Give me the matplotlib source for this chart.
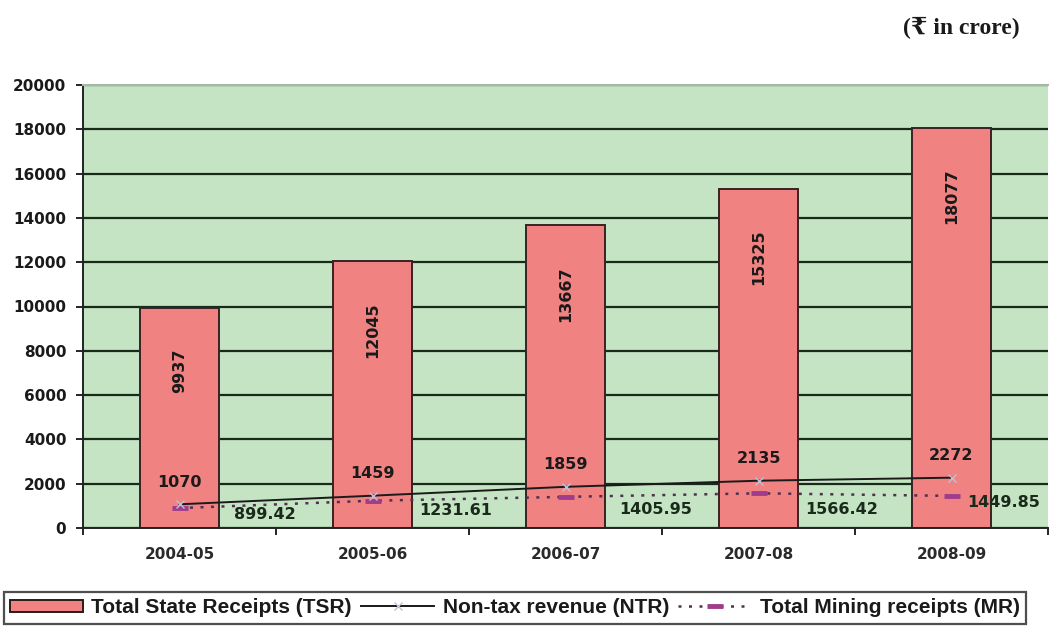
import matplotlib
matplotlib.use("Agg")
import matplotlib.pyplot as plt
import numpy as np
from matplotlib.lines import Line2D
from matplotlib.patches import Patch

years = ["2004-05", "2005-06", "2006-07", "2007-08", "2008-09"]
tsr = [9937, 12045, 13667, 15325, 18077]
ntr = [1070, 1459, 1859, 2135, 2272]
mr = [899.42, 1231.61, 1405.95, 1566.42, 1449.85]
yticks = list(range(0, 20001, 2000))

# label placement (layout only)
mr_label_dx = [0.28, 0.24, 0.28, 0.24, 0.08]
mr_label_dy = [-310, -420, -590, -750, -280]

plt.rcParams['font.family'] = ['DejaVu Sans']

W, H = 1049, 626
fig = plt.figure(figsize=(W / 100, H / 100), dpi=100)
L, R, T, B = 83, 1048, 85, 528
ax = fig.add_axes([L / W, 1 - B / H, (R - L) / W, (B - T) / H])
ax.set_facecolor('#c4e4c4')

x = np.arange(len(years))
ax.set_axisbelow(True)
ax.yaxis.grid(True, color='#1a2a1a', linewidth=1.6)
ax.bar(x, tsr, width=0.41, color='#f08282', edgecolor='#3a2222', linewidth=1.4, zorder=2)
for xi, v in zip(x, tsr):
    ax.text(xi, v - 1850, str(v), rotation=90, ha='center', va='top',
            fontsize=11.5, fontweight='bold', color='#1a1a1a', zorder=5)

ax.plot(x, ntr, color='#1a1a1a', linewidth=1.4, marker='x', markersize=6,
        markeredgecolor='#b8c4d8', zorder=4)
ax.plot(x, mr, color='#503050', linewidth=1.8, linestyle=(0, (1.2, 3)),
        marker='_', markersize=11, markeredgewidth=3.5, markeredgecolor='#a03c8c', zorder=3)
for xi, v in zip(x, ntr):
    ax.text(xi, v + 1000, str(v), ha='center', va='center', fontsize=11.5,
            fontweight='bold', color='#1a1a1a', zorder=5)
for xi, v, dx, dy in zip(x, mr, mr_label_dx, mr_label_dy):
    ax.text(xi + dx, v + dy, f"{v:.2f}", ha='left', va='center', fontsize=11.5,
            fontweight='bold', color='#1a2a1a', zorder=5)

ax.set_xlim(-0.5, len(years) - 0.5)
ax.set_ylim(0, 20000)
ax.set_yticks(yticks)
ax.set_yticklabels([str(t) for t in yticks], fontsize=11, fontweight='bold', color='#1a1a1a')
ax.set_xticks(np.arange(len(years) + 1) - 0.5)
ax.set_xticklabels([])
ax.set_xticks(x, minor=True)
ax.set_xticklabels(years, minor=True, fontsize=11, fontweight='bold', color='#2a2a2a')
ax.tick_params(axis='x', which='minor', length=0, pad=14)
ax.tick_params(axis='x', which='major', length=5, width=1.2, direction='out')
ax.tick_params(axis='y', length=5, width=1.2, direction='out', pad=7)
ax.spines['right'].set_visible(False)
ax.spines['top'].set_color('#a8b8a8')
ax.spines['top'].set_linewidth(1.5)
for s in ['left', 'bottom']:
    ax.spines[s].set_linewidth(1.4)
    ax.spines[s].set_color('#222222')

fig.text(1020 / W, 1 - 28 / H, "(\u20b9 in crore)", ha='right', va='center',
         fontsize=17, fontweight='bold', color='#1a1a1a',
         family=['Liberation Serif', 'DejaVu Serif'])

handles = [
    Patch(facecolor='#f08282', edgecolor='#2a1a1a', linewidth=1.4),
    Line2D([], [], color='#1a1a1a', linewidth=1.4, marker='x', markersize=6,
           markeredgecolor='#b8c4d8'),
    Line2D([], [], color='#503050', linewidth=1.8, linestyle=(0, (1.2, 3)),
           marker='_', markersize=11, markeredgewidth=3.5, markeredgecolor='#a03c8c'),
]
labels = ["Total State Receipts (TSR)", "Non-tax revenue (NTR)", "Total Mining receipts (MR)"]
leg = fig.legend(handles, labels, loc='upper left', ncol=3,
                 bbox_to_anchor=(4 / W, 1 - 592 / H),
                 prop={'family': ['Liberation Sans', 'DejaVu Sans'],
                       'weight': 'bold', 'size': 15},
                 frameon=True, fancybox=False, edgecolor='#222222',
                 handlelength=3.5, handleheight=0.55, handletextpad=0.4,
                 columnspacing=0.45, borderpad=0.3, borderaxespad=0)
leg.get_frame().set_linewidth(1.6)
for t in leg.get_texts():
    t.set_color('#1a1a1a')

fig.savefig("out.png", dpi=100)
